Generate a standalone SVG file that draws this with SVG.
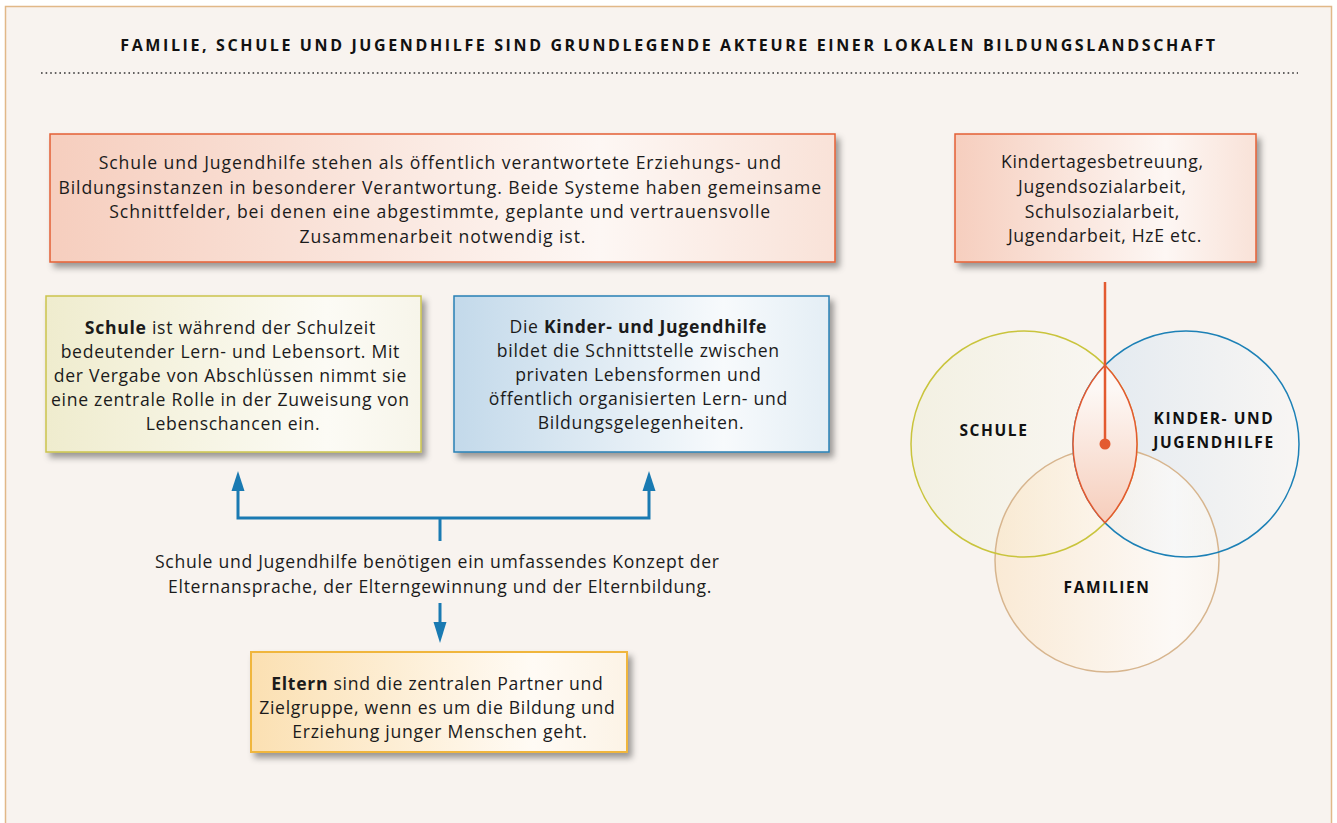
<svg xmlns="http://www.w3.org/2000/svg" width="1337" height="823" viewBox="0 0 1337 823">
  <defs>
    <style>
      .body { font-family: "Open Sans", "Noto Sans", sans-serif; font-size: 17.6px; letter-spacing: 0.7px; fill: #1b1b1b; text-anchor: middle; }
      .wide { letter-spacing: 0.92px; }
      .body tspan.b { font-weight: 700; }
      .title { font-family: "Open Sans", "Noto Sans", sans-serif; font-size: 16px; font-weight: 700; letter-spacing: 2.62px; fill: #111; text-anchor: middle; }
      .venn { font-family: "Open Sans", "Noto Sans", sans-serif; font-size: 15.5px; font-weight: 700; letter-spacing: 1.6px; fill: #111; text-anchor: middle; }
      .conn { fill: none; stroke: #1a7ab2; stroke-width: 3; }
    </style>
    <filter id="shadow" x="-10%" y="-20%" width="125%" height="150%">
      <feDropShadow dx="4" dy="5" stdDeviation="3" flood-color="#000" flood-opacity="0.38"/>
    </filter>
    <linearGradient id="gPink" x1="0" y1="0" x2="1" y2="0">
      <stop offset="0" stop-color="#f6cebe"/>
      <stop offset="0.7" stop-color="#fdf7f4"/>
      <stop offset="1" stop-color="#f9e2d8"/>
    </linearGradient>
    <linearGradient id="gYellow" x1="0" y1="0" x2="1" y2="0">
      <stop offset="0" stop-color="#efecce"/>
      <stop offset="0.75" stop-color="#fcfbf5"/>
      <stop offset="1" stop-color="#f7f5ea"/>
    </linearGradient>
    <linearGradient id="gBlue" x1="0" y1="0" x2="1" y2="0">
      <stop offset="0" stop-color="#c3d9ea"/>
      <stop offset="0.72" stop-color="#f7fafc"/>
      <stop offset="1" stop-color="#e4eef5"/>
    </linearGradient>
    <linearGradient id="gGold" x1="0" y1="0" x2="1" y2="0">
      <stop offset="0" stop-color="#fbe0b2"/>
      <stop offset="0.75" stop-color="#fffbf5"/>
      <stop offset="1" stop-color="#fcf3e6"/>
    </linearGradient>
    <linearGradient id="cSchule" x1="0" y1="0" x2="1" y2="0">
      <stop offset="0" stop-color="#f2f0e0"/>
      <stop offset="1" stop-color="#faf8f5"/>
    </linearGradient>
    <linearGradient id="cKinder" x1="0" y1="0" x2="1" y2="0">
      <stop offset="0" stop-color="#dde7f0"/>
      <stop offset="1" stop-color="#f8f6f4"/>
    </linearGradient>
    <linearGradient id="cFam" x1="0" y1="0" x2="1" y2="0">
      <stop offset="0" stop-color="#fbe4c4"/>
      <stop offset="0.8" stop-color="#fffdfb"/>
      <stop offset="1" stop-color="#fbf6ef"/>
    </linearGradient>
    <linearGradient id="cLens" x1="0" y1="0" x2="0" y2="1">
      <stop offset="0.15" stop-color="#fdf8f5"/>
      <stop offset="1" stop-color="#f6cdbb"/>
    </linearGradient>
  </defs>

  <!-- page frame -->
  <rect x="0" y="0" width="1337" height="823" fill="#ffffff"/>
  <rect x="5.5" y="6.5" width="1326" height="830" fill="#f8f3ef" stroke="#e1b888" stroke-width="1.5"/>

  <!-- heading -->
  <text class="title" x="669" y="51">FAMILIE, SCHULE UND JUGENDHILFE SIND GRUNDLEGENDE AKTEURE EINER LOKALEN BILDUNGSLANDSCHAFT</text>
  <line x1="41" y1="73" x2="1298" y2="73" stroke="#333" stroke-width="1.6" stroke-dasharray="1.6 3" stroke-linecap="butt"/>

  <!-- connectors -->
  <g id="connectors">
    <polyline class="conn" points="238,490 238,518 649,518 649,490"/>
    <polygon points="238,471 231.5,491 244.5,491" fill="#1a7ab2"/>
    <polygon points="649,471 642.5,491 655.5,491" fill="#1a7ab2"/>
    <line class="conn" x1="440" y1="518" x2="440" y2="541"/>
    <line class="conn" x1="440" y1="603" x2="440" y2="625"/>
    <polygon points="440,643 433.5,622 446.5,622" fill="#1a7ab2"/>
  </g>

  <!-- box: public responsibility -->
  <g id="node-verantwortung">
    <rect x="50" y="134" width="785" height="128" fill="url(#gPink)" stroke="#e35f35" stroke-width="1.5" filter="url(#shadow)"/>
    <text class="body wide">
      <tspan x="443" y="169">Schule und Jugendhilfe stehen als öffentlich verantwortete Erziehungs- und</tspan>
      <tspan x="443" y="194">Bildungsinstanzen in besonderer Verantwortung. Beide Systeme haben gemeinsame</tspan>
      <tspan x="443" y="218">Schnittfelder, bei denen eine abgestimmte, geplante und vertrauensvolle</tspan>
      <tspan x="443" y="243">Zusammenarbeit notwendig ist.</tspan>
    </text>
  </g>

  <!-- box: school -->
  <g id="node-schule">
    <rect x="46" y="296" width="375" height="156" fill="url(#gYellow)" stroke="#cbc44c" stroke-width="1.5" filter="url(#shadow)"/>
    <text class="body">
      <tspan x="233" y="334"><tspan class="b">Schule</tspan> ist während der Schulzeit</tspan>
      <tspan x="233" y="358">bedeutender Lern- und Lebensort. Mit</tspan>
      <tspan x="233" y="382">der Vergabe von Abschlüssen nimmt sie</tspan>
      <tspan x="233" y="406">eine zentrale Rolle in der Zuweisung von</tspan>
      <tspan x="233" y="430">Lebenschancen ein.</tspan>
    </text>
  </g>

  <!-- box: youth welfare -->
  <g id="node-jugendhilfe">
    <rect x="454" y="296" width="375" height="156" fill="url(#gBlue)" stroke="#2a80b5" stroke-width="1.5" filter="url(#shadow)"/>
    <text class="body">
      <tspan x="641" y="333">Die <tspan class="b">Kinder- und Jugendhilfe</tspan></tspan>
      <tspan x="641" y="357">bildet die Schnittstelle zwischen</tspan>
      <tspan x="641" y="381">privaten Lebensformen und</tspan>
      <tspan x="641" y="405">öffentlich organisierten Lern- und</tspan>
      <tspan x="641" y="429">Bildungsgelegenheiten.</tspan>
    </text>
  </g>

  <!-- box: fields of youth welfare -->
  <g id="node-felder">
    <rect x="955" y="134" width="301" height="128" fill="url(#gPink)" stroke="#e35f35" stroke-width="1.5" filter="url(#shadow)"/>
    <text class="body">
      <tspan x="1105" y="168">Kindertagesbetreuung,</tspan>
      <tspan x="1105" y="193">Jugendsozialarbeit,</tspan>
      <tspan x="1105" y="218">Schulsozialarbeit,</tspan>
      <tspan x="1105" y="242">Jugendarbeit, HzE etc.</tspan>
    </text>
  </g>

  <!-- middle statement -->
  <g id="node-konzept">
    <text class="body">
      <tspan x="440" y="568">Schule und Jugendhilfe benötigen ein umfassendes Konzept der</tspan>
      <tspan x="440" y="593">Elternansprache, der Elterngewinnung und der Elternbildung.</tspan>
    </text>
  </g>

  <!-- box: parents -->
  <g id="node-eltern">
    <rect x="251" y="652" width="376" height="100" fill="url(#gGold)" stroke="#f0b63c" stroke-width="2" filter="url(#shadow)"/>
    <text class="body">
      <tspan x="440" y="690"><tspan class="b">Eltern</tspan> sind die zentralen Partner und</tspan>
      <tspan x="440" y="714">Zielgruppe, wenn es um die Bildung und</tspan>
      <tspan x="440" y="738">Erziehung junger Menschen geht.</tspan>
    </text>
  </g>

  <!-- venn diagram -->
  <g id="node-venn">
    <circle cx="1024" cy="444" r="113" fill="url(#cSchule)" fill-opacity="0.85"/>
    <circle cx="1186" cy="444" r="113" fill="url(#cKinder)" fill-opacity="0.85"/>
    <circle cx="1107" cy="560" r="112" fill="url(#cFam)" fill-opacity="0.6"/>
    <circle cx="1107" cy="560" r="112" fill="none" stroke="#d7b58e" stroke-width="1.5"/>
    <circle cx="1024" cy="444" r="113" fill="none" stroke="#c9c43c" stroke-width="1.5"/>
    <circle cx="1186" cy="444" r="113" fill="none" stroke="#1c80b6" stroke-width="1.5"/>
    <path d="M1105,365.2 A113,113 0 0 1 1105,522.8 A113,113 0 0 1 1105,365.2 Z" fill="url(#cLens)" stroke="#e35a30" stroke-width="1.5"/>
    <text class="venn" x="994" y="436">SCHULE</text>
    <text class="venn" x="1214" y="424">KINDER- UND</text>
    <text class="venn" x="1214" y="448">JUGENDHILFE</text>
    <text class="venn" x="1107" y="593">FAMILIEN</text>
  </g>

  <!-- pointer from the services box into the overlap -->
  <g id="pointer">
    <line x1="1105" y1="282" x2="1105" y2="444" stroke="#e35a30" stroke-width="2.5"/>
    <circle cx="1105" cy="444" r="5.5" fill="#e35a30"/>
  </g>
</svg>
